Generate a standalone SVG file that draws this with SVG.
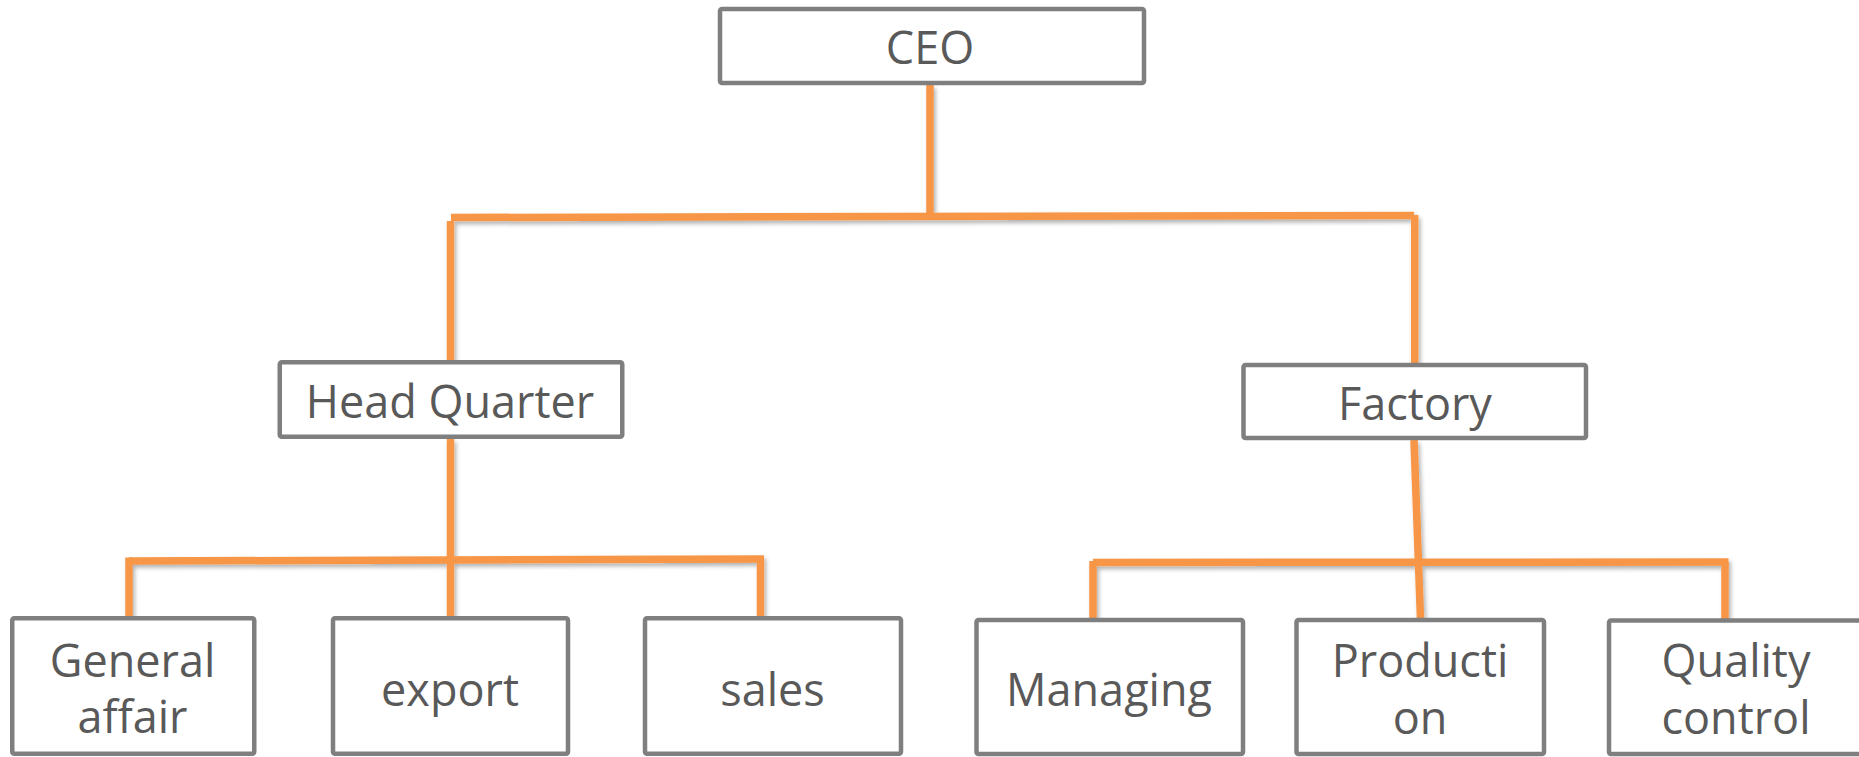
<svg xmlns="http://www.w3.org/2000/svg" width="1859" height="757" viewBox="0 0 1859 757">
  <defs>
    <filter id="shadow" x="-20%" y="-20%" width="140%" height="140%">
      <feDropShadow dx="2" dy="3" stdDeviation="2" flood-color="#000000" flood-opacity="0.3"/>
    </filter>
    <style>
      .box { fill: #ffffff; stroke: #7f7f7f; stroke-width: 4.5; }
      .lbl { font-family: "Open Sans", "Noto Sans", "DejaVu Sans", sans-serif; font-size: 45px; fill: #595959; text-anchor: middle; }
      .conn { stroke: #f79646; stroke-width: 7.5; fill: none; stroke-linecap: butt; }
    </style>
  </defs>
  <rect width="1859" height="757" fill="#ffffff"/>

  <g id="connectors" filter="url(#shadow)">
    <line class="conn" x1="930" y1="85" x2="930" y2="217"/>
    <line class="conn" x1="451" y1="217.5" x2="1414" y2="215.5"/>
    <line class="conn" x1="450.5" y1="221" x2="450.5" y2="361"/>
    <line class="conn" x1="1414.7" y1="215" x2="1414.7" y2="364"/>
    <line class="conn" x1="450.5" y1="439" x2="450.5" y2="617"/>
    <line class="conn" x1="129" y1="561" x2="764" y2="559"/>
    <line class="conn" x1="129" y1="557.5" x2="129" y2="617"/>
    <line class="conn" x1="760.5" y1="559" x2="760.5" y2="617"/>
    <line class="conn" x1="1414" y1="440" x2="1420.5" y2="619"/>
    <line class="conn" x1="1093" y1="562.5" x2="1728.5" y2="562"/>
    <line class="conn" x1="1093" y1="561" x2="1093" y2="619"/>
    <line class="conn" x1="1725" y1="562" x2="1725" y2="619"/>
  </g>

  <g id="node-ceo">
    <rect class="box" x="720" y="9" width="424" height="74" rx="2"/>
    <text class="lbl" x="930" y="64">CEO</text>
  </g>
  <g id="node-hq">
    <rect class="box" x="279.75" y="362.25" width="342.5" height="74.5" rx="2"/>
    <text class="lbl" x="450" y="418">Head Quarter</text>
  </g>
  <g id="node-factory">
    <rect class="box" x="1243.5" y="365" width="342.5" height="73" rx="2"/>
    <text class="lbl" x="1415" y="420">Factory</text>
  </g>
  <g id="node-general">
    <rect class="box" x="12.25" y="618.25" width="242" height="135.5" rx="2"/>
    <text class="lbl" x="132.5" y="677">General</text>
    <text class="lbl" x="132.5" y="733">affair</text>
  </g>
  <g id="node-export">
    <rect class="box" x="333" y="618.25" width="235" height="135.5" rx="2"/>
    <text class="lbl" x="450" y="706">export</text>
  </g>
  <g id="node-sales">
    <rect class="box" x="645" y="618.25" width="256" height="135.5" rx="2"/>
    <text class="lbl" x="772.5" y="706">sales</text>
  </g>
  <g id="node-managing">
    <rect class="box" x="976.5" y="620" width="266.5" height="134" rx="2"/>
    <text class="lbl" x="1109" y="706">Managing</text>
  </g>
  <g id="node-production">
    <rect class="box" x="1296.5" y="620" width="247.5" height="134" rx="2"/>
    <text class="lbl" x="1420" y="677">Producti</text>
    <text class="lbl" x="1420" y="734">on</text>
  </g>
  <g id="node-quality">
    <rect class="box" x="1609" y="620.5" width="256" height="133.5" rx="2"/>
    <text class="lbl" x="1736" y="677">Quality</text>
    <text class="lbl" x="1736" y="734">control</text>
  </g>
</svg>
